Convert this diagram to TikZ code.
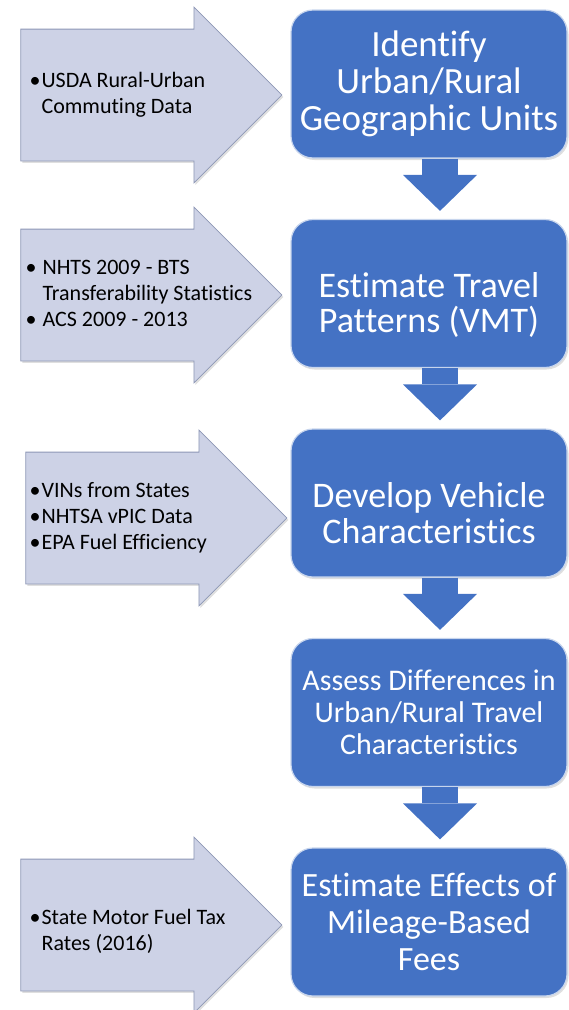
\documentclass[tikz,border=0pt]{standalone}
\usepackage{fontspec}
\setmainfont{Carlito}[Ligatures=NoCommon]
\usepackage{xcolor}
\usetikzlibrary{positioning,shapes.arrows,arrows.meta,shadows}
\definecolor{stepblue}{HTML}{4472C4}
\definecolor{inputgray}{HTML}{CDD2E6}
\definecolor{inputedge}{HTML}{8D97B5}

\begin{document}
\begin{tikzpicture}[x=1pt,y=1pt,node distance=209.5pt,
  stage/.style={rectangle,rounded corners=22pt,fill=stepblue,draw=stepblue!30!white,line width=1.2pt,
    text=white,minimum width=276pt,minimum height=148pt,align=center,inner sep=0pt,
    drop shadow={opacity=0.25,shadow xshift=1.5pt,shadow yshift=-2pt}},
  input/.style={single arrow,fill=inputgray,draw=inputedge,line width=0.8pt,minimum width=175pt,
    minimum height=261pt,single arrow head extend=22pt,inner xsep=0pt,inner ysep=65.5pt,
    drop shadow={opacity=0.25,shadow xshift=1.5pt,shadow yshift=-2pt}},
  inputtext/.style={font=\fontsize{22}{26}\selectfont,inner sep=0pt},
  flow/.style={draw=stepblue,line width=36pt,-{Triangle[length=36pt,width=74pt,line width=0pt]},shorten >=8pt}]
\useasboundingbox (0,0) rectangle (569,-1010);

\node[stage,font=\fontsize{37}{37}\selectfont] (B1) at (429,-84) {Identify\\Urban/Rural\\Geographic Units};
\node[stage,font=\fontsize{36}{35}\selectfont] (B2) [below of = B1] {\rule{0pt}{47pt}Estimate Travel\\Patterns (VMT)};
\node[stage,font=\fontsize{36}{36}\selectfont] (B3) [below of = B2] {\rule{0pt}{46pt}Develop Vehicle\\Characteristics};
\node[stage,font=\fontsize{30}{32}\selectfont] (B4) [below of = B3] {Assess Differences in\\Urban/Rural Travel\\Characteristics};
\node[stage,font=\fontsize{34}{37}\selectfont] (B5) [below of = B4] {Estimate Effects of\\Mileage-Based\\Fees};

\node[input,anchor=tip] (I1) at ([xshift=-8pt,yshift=-11pt]B1.west) {};
\node[input,anchor=tip] (I2) at ([xshift=-8pt,yshift=-1.5pt]B2.west) {};
\node[input,anchor=tip] (I3) at ([xshift=-3pt,yshift=-15pt]B3.west) {};
\node[input,anchor=tip] (I4) at ([xshift=-8pt,yshift=-3pt]B5.west) {};

\node[inputtext,right=9pt of I1.tail] (T1) {\begin{tabular}{@{}l@{\hspace{1pt}}l@{}}•&USDA Rural-Urban\\&Commuting Data\end{tabular}};
\node[inputtext,right=5pt of I2.tail] (T2) {\begin{tabular}{@{}l@{\hspace{6pt}}l@{}}•&NHTS 2009 - BTS\\&Transferability Statistics\\•&ACS 2009 - 2013\end{tabular}};
\node[inputtext,right=4pt of I3.tail] (T3) {\begin{tabular}{@{}l@{\hspace{1pt}}l@{}}•&VINs from States\\•&NHTSA vPIC Data\\•&EPA Fuel Efficiency\end{tabular}};
\node[inputtext,right=9pt of I4.tail,yshift=-7pt] (T4) {\begin{tabular}{@{}l@{\hspace{1pt}}l@{}}•&State Motor Fuel Tax\\&Rates (2016)\end{tabular}};

\path[flow] ([xshift=11pt]B1.south) -- ([xshift=11pt]B2.north);
\path[flow] ([xshift=11pt]B2.south) -- ([xshift=11pt]B3.north);
\path[flow] ([xshift=11pt]B3.south) -- ([xshift=11pt]B4.north);
\path[flow] ([xshift=11pt]B4.south) -- ([xshift=11pt]B5.north);

\end{tikzpicture}
\end{document}
